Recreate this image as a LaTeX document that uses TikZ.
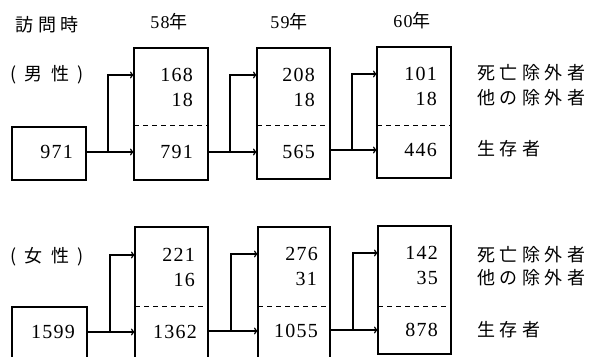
\documentclass[tikz,border=0pt]{standalone}
\usepackage{fontspec}
\newfontfamily\numfont[LetterSpace=6]{Liberation Serif}
\newfontfamily\jpfont[LetterSpace=25]{Noto Sans CJK JP}
\usetikzlibrary{arrows.meta}
\begin{document}
\begin{tikzpicture}[x=1pt,y=-1pt,
  box/.style={draw, line width=1.2pt, inner sep=0pt, outer sep=0pt},
  num/.style={anchor=east, inner sep=0pt, font=\fontsize{20}{20}\selectfont\numfont},
  jp/.style={anchor=west, inner sep=0pt, font=\fontsize{18}{18}\selectfont\jpfont},
  head/.style={inner sep=0pt, font=\fontsize{18}{18}\selectfont\jpfont},
  arr/.style={line width=1.2pt, -{To[length=4pt,width=7pt]}},
  ln/.style={line width=1.2pt},
  sep/.style={line width=1pt, dash pattern=on 5pt off 4pt}]
\useasboundingbox (0,0) rectangle (596,356);
% headers
\node[head] (h0) at (47,25) {訪問時};
\node[head] (h1) at (169,22) {{\numfont 58}年};
\node[head] (h2) at (289,22) {{\numfont 59}年};
\node[head] (h3) at (412,21) {{\numfont 60}年};
% ---------------- male
\node[head] (mlab) at (47,75) {( 男 性 )};
\node[box, minimum width=74pt, minimum height=53pt] (mA) at (49,153.5) {};
\node[box, minimum width=74pt, minimum height=132pt] (mB) at (171,114) {};
\node[box, minimum width=73pt, minimum height=131pt] (mC) at (293.5,113.5) {};
\node[box, minimum width=74pt, minimum height=131pt] (mD) at (414,112.5) {};
\coordinate (mdash) at (0,125);
\draw[sep] (mB.west |- mdash) -- (mB.east |- mdash);
\draw[sep] (mC.west |- mdash) -- (mC.east |- mdash);
\draw[sep] (mD.west |- mdash) -- (mD.east |- mdash);
\node[num] (m971) at (73,152) {971};
\node[num] (m168) at (193,75) {168};
\node[num] (m18a) at (193,100) {18};
\node[num] (m791) at (193,152) {791};
\node[num] (m208) at (315,75) {208};
\node[num] (m18b) at (315,100) {18};
\node[num] (m565) at (315,152) {565};
\node[num] (m101) at (437,74) {101};
\node[num] (m18c) at (437,99) {18};
\node[num] (m446) at (437,150) {446};
\coordinate (mj1) at (108,152);
\coordinate (mj2) at (230,152);
\coordinate (mj3) at (352,150);
\draw[arr] (mA.east |- m971) -- (mB.west |- m791);
\draw[arr] (mj1) |- (mB.west |- m168);
\draw[arr] (mB.east |- m791) -- (mC.west |- m565);
\draw[arr] (mj2) |- (mC.west |- m208);
\draw[arr] (mC.east |- m446) -- (mD.west |- m446);
\draw[arr] (mj3) |- (mD.west |- m101);
\node[jp] (mt1) at (477,73) {死亡除外者};
\node[jp] (mt2) at (477,98) {他の除外者};
\node[jp] (mt3) at (477,149) {生存者};
% ---------------- female
\node[head] (flab) at (47,257) {( 女 性 )};
\node[box, minimum width=75pt, minimum height=53pt] (fA) at (49.5,333.5) {};
\node[box, minimum width=73pt, minimum height=133pt] (fB) at (171.5,293.5) {};
\node[box, minimum width=72pt, minimum height=133pt] (fC) at (294,293.5) {};
\node[box, minimum width=73pt, minimum height=128pt] (fD) at (414.5,290) {};
\coordinate (fdash) at (0,306);
\draw[sep] (fB.west |- fdash) -- (fB.east |- fdash);
\draw[sep] (fC.west |- fdash) -- (fC.east |- fdash);
\draw[sep] (fD.west |- fdash) -- (fD.east |- fdash);
\node[num] (f1599) at (75,332) {1599};
\node[num] (f221) at (195,255) {221};
\node[num] (f16) at (195,280) {16};
\node[num] (f1362) at (197,332) {1362};
\node[num] (f276) at (318,254) {276};
\node[num] (f31) at (317,279) {31};
\node[num] (f1055) at (318,331) {1055};
\node[num] (f142) at (438,253) {142};
\node[num] (f35) at (438,278) {35};
\node[num] (f878) at (438,330) {878};
\coordinate (fj1) at (110,332);
\coordinate (fj2) at (231,331);
\coordinate (fj3) at (353,330);
\draw[arr] (fA.east |- f1599) -- (fB.west |- f1362);
\draw[arr] (fj1) |- (fB.west |- f221);
\draw[arr] (fB.east |- f1055) -- (fC.west |- f1055);
\draw[arr] (fj2) |- (fC.west |- f276);
\draw[arr] (fC.east |- f878) -- (fD.west |- f878);
\draw[arr] (fj3) |- (fD.west |- f142);
\node[jp] (ft1) at (477,255) {死亡除外者};
\node[jp] (ft2) at (477,278) {他の除外者};
\node[jp] (ft3) at (477,330) {生存者};
\end{tikzpicture}
\end{document}
